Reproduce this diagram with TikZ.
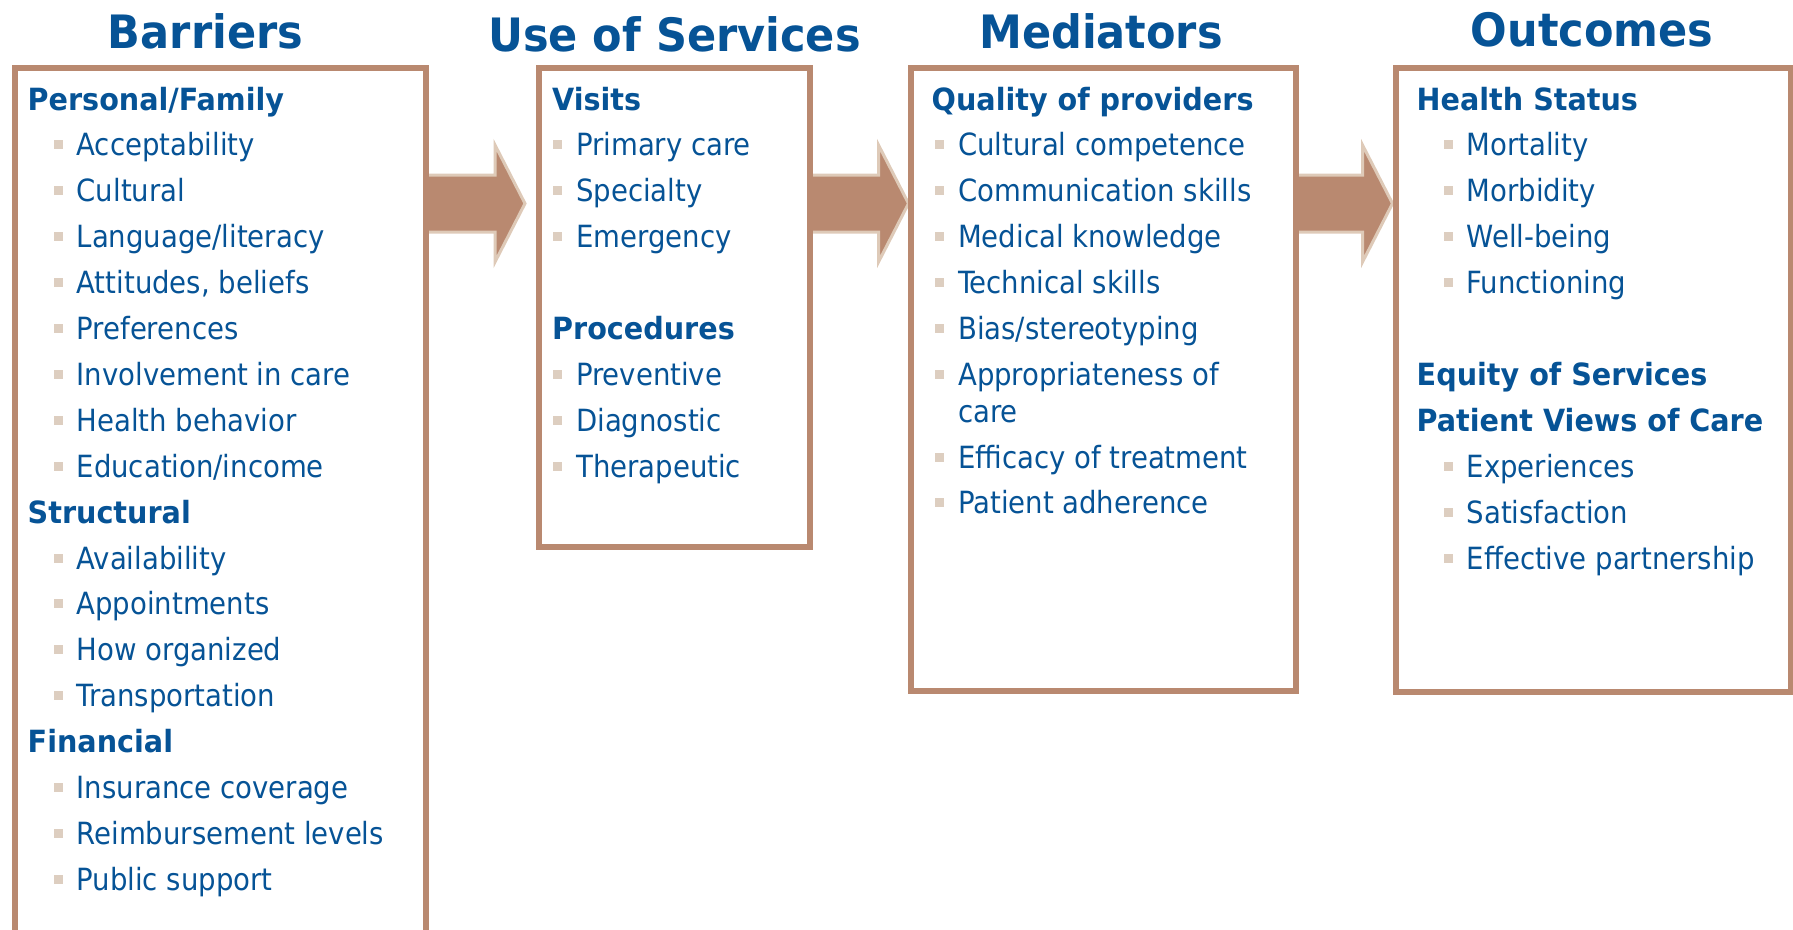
\documentclass[tikz,border=0pt]{standalone}
\usepackage{fontspec}
\setmainfont{DejaVu Sans Condensed}[BoldFeatures={FakeStretch=1.04}]
\usepackage{tikz}
\usetikzlibrary{calc,backgrounds}

\definecolor{capblue}{RGB}{6,83,150}
\definecolor{frame}{RGB}{185,137,112}
\definecolor{dotcol}{RGB}{221,206,192}
\definecolor{edgecol}{RGB}{222,202,184}

\begin{document}
\begin{tikzpicture}[x=1pt,y=-1pt,
    box/.style={draw=frame,line width=6pt,rectangle,inner sep=0pt,outer sep=0pt,anchor=north west},
    title/.style={text=capblue,font=\fontsize{46}{50}\selectfont\bfseries,anchor=base,inner sep=0pt},
    head/.style={text=capblue,font=\fontsize{30.6}{36}\selectfont\bfseries,anchor=base west,inner sep=0pt},
    item/.style={text=capblue,font=\fontsize{30.6}{36}\selectfont,anchor=base west,inner sep=0pt},
    dot/.style={fill=dotcol,minimum size=9pt,inner sep=0pt},
    blockarrow/.style={fill=frame,draw=edgecol,line width=3pt,line join=miter}]

    \useasboundingbox (0,0) rectangle (1793,929);
    \clip (0,0) rectangle (1793,929);

    % column titles
    \node[title] (t-bar) at (205.5,48) {Barriers};
    \node[title] (t-use) at (674.5,51) {Use of Services};
    \node[title] (t-med) at (1101,48) {Mediators};
    \node[title] (t-out) at (1592,46) {Outcomes};

    % boxes
    \node[box,minimum width=410.5pt,minimum height=900pt] (bar) at (15,68) {};
    \node[box,minimum width=271.3pt,minimum height=479.3pt] (use) at (539,68) {};
    \node[box,minimum width=385.8pt,minimum height=623pt] (med) at (910.5,68) {};
    \node[box,minimum width=394.5pt,minimum height=624pt] (out) at (1396,68) {};

    % arrows between the boxes
    \begin{pgfonlayer}{background}
    \foreach \a/\bx/\tx in {bar/495/525, use/878.5/908.5, med/1362.5/1392.5}
        \draw[blockarrow] (\a.east |- 0,175) -- (\bx,175) -- (\bx,145) -- (\tx,203.5)
            -- (\bx,262) -- (\bx,232) -- (\a.east |- 0,232) -- cycle;
    \end{pgfonlayer}

    % Barriers
    \foreach \r/\t in {0/{Personal/Family},9/Structural,14/Financial}
        \node[head] (bar-\r) at (27.5,{110+45.9*\r}) {\t};
    \foreach \r/\t in {1/Acceptability,2/Cultural,3/{Language/literacy},4/{Attitudes, beliefs},
            5/Preferences,6/{Involvement in care},7/{Health behavior},8/{Education/income},
            10/Availability,11/Appointments,12/{How organized},13/Transportation,
            15/{Insurance coverage},16/{Reimbursement levels},17/{Public support}} {
        \node[dot] (bar-dot-\r) at (58,{99+45.9*\r}) {};
        \node[item] (bar-\r) at (76.5,{110+45.9*\r}) {\t};
    }

    % Use of Services
    \foreach \r/\t in {0/Visits,5/Procedures}
        \node[head] (use-\r) at (552,{110+45.9*\r}) {\t};
    \foreach \r/\t in {1/{Primary care},2/Specialty,3/Emergency,6/Preventive,7/Diagnostic,8/Therapeutic} {
        \node[dot] (use-dot-\r) at (557.5,{99+45.9*\r}) {};
        \node[item] (use-\r) at (576,{110+45.9*\r}) {\t};
    }

    % Mediators
    \node[head] (med-0) at (931.5,110) {Quality of providers};
    \foreach \r/\t in {1/{Cultural competence},2/{Communication skills},3/{Medical knowledge},
            4/{Technical skills},5/{Bias/stereotyping},6/{Appropriateness of}} {
        \node[dot] (med-dot-\r) at (939,{99+45.9*\r}) {};
        \node[item] (med-\r) at (958,{110+45.9*\r}) {\t};
    }
    \node[item] (med-6b) at (958,{110+45.9*6+36.7}) {care};
    \foreach \r/\t in {7/{Efficacy of treatment},8/{Patient adherence}} {
        \node[dot] (med-dot-\r) at (939,{99+45.9*\r+36.7}) {};
        \node[item] (med-\r) at (958,{110+45.9*\r+36.7}) {\t};
    }

    % Outcomes
    \foreach \r/\t in {0/{Health Status},6/{Equity of Services},7/{Patient Views of Care}}
        \node[head] (out-\r) at (1416.5,{110+45.9*\r}) {\t};
    \foreach \r/\t in {1/Mortality,2/Morbidity,3/Well-being,4/Functioning,
            8/Experiences,9/Satisfaction,10/{Effective partnership}} {
        \node[dot] (out-dot-\r) at (1448.5,{99+45.9*\r}) {};
        \node[item] (out-\r) at (1466.5,{110+45.9*\r}) {\t};
    }
\end{tikzpicture}
\end{document}
